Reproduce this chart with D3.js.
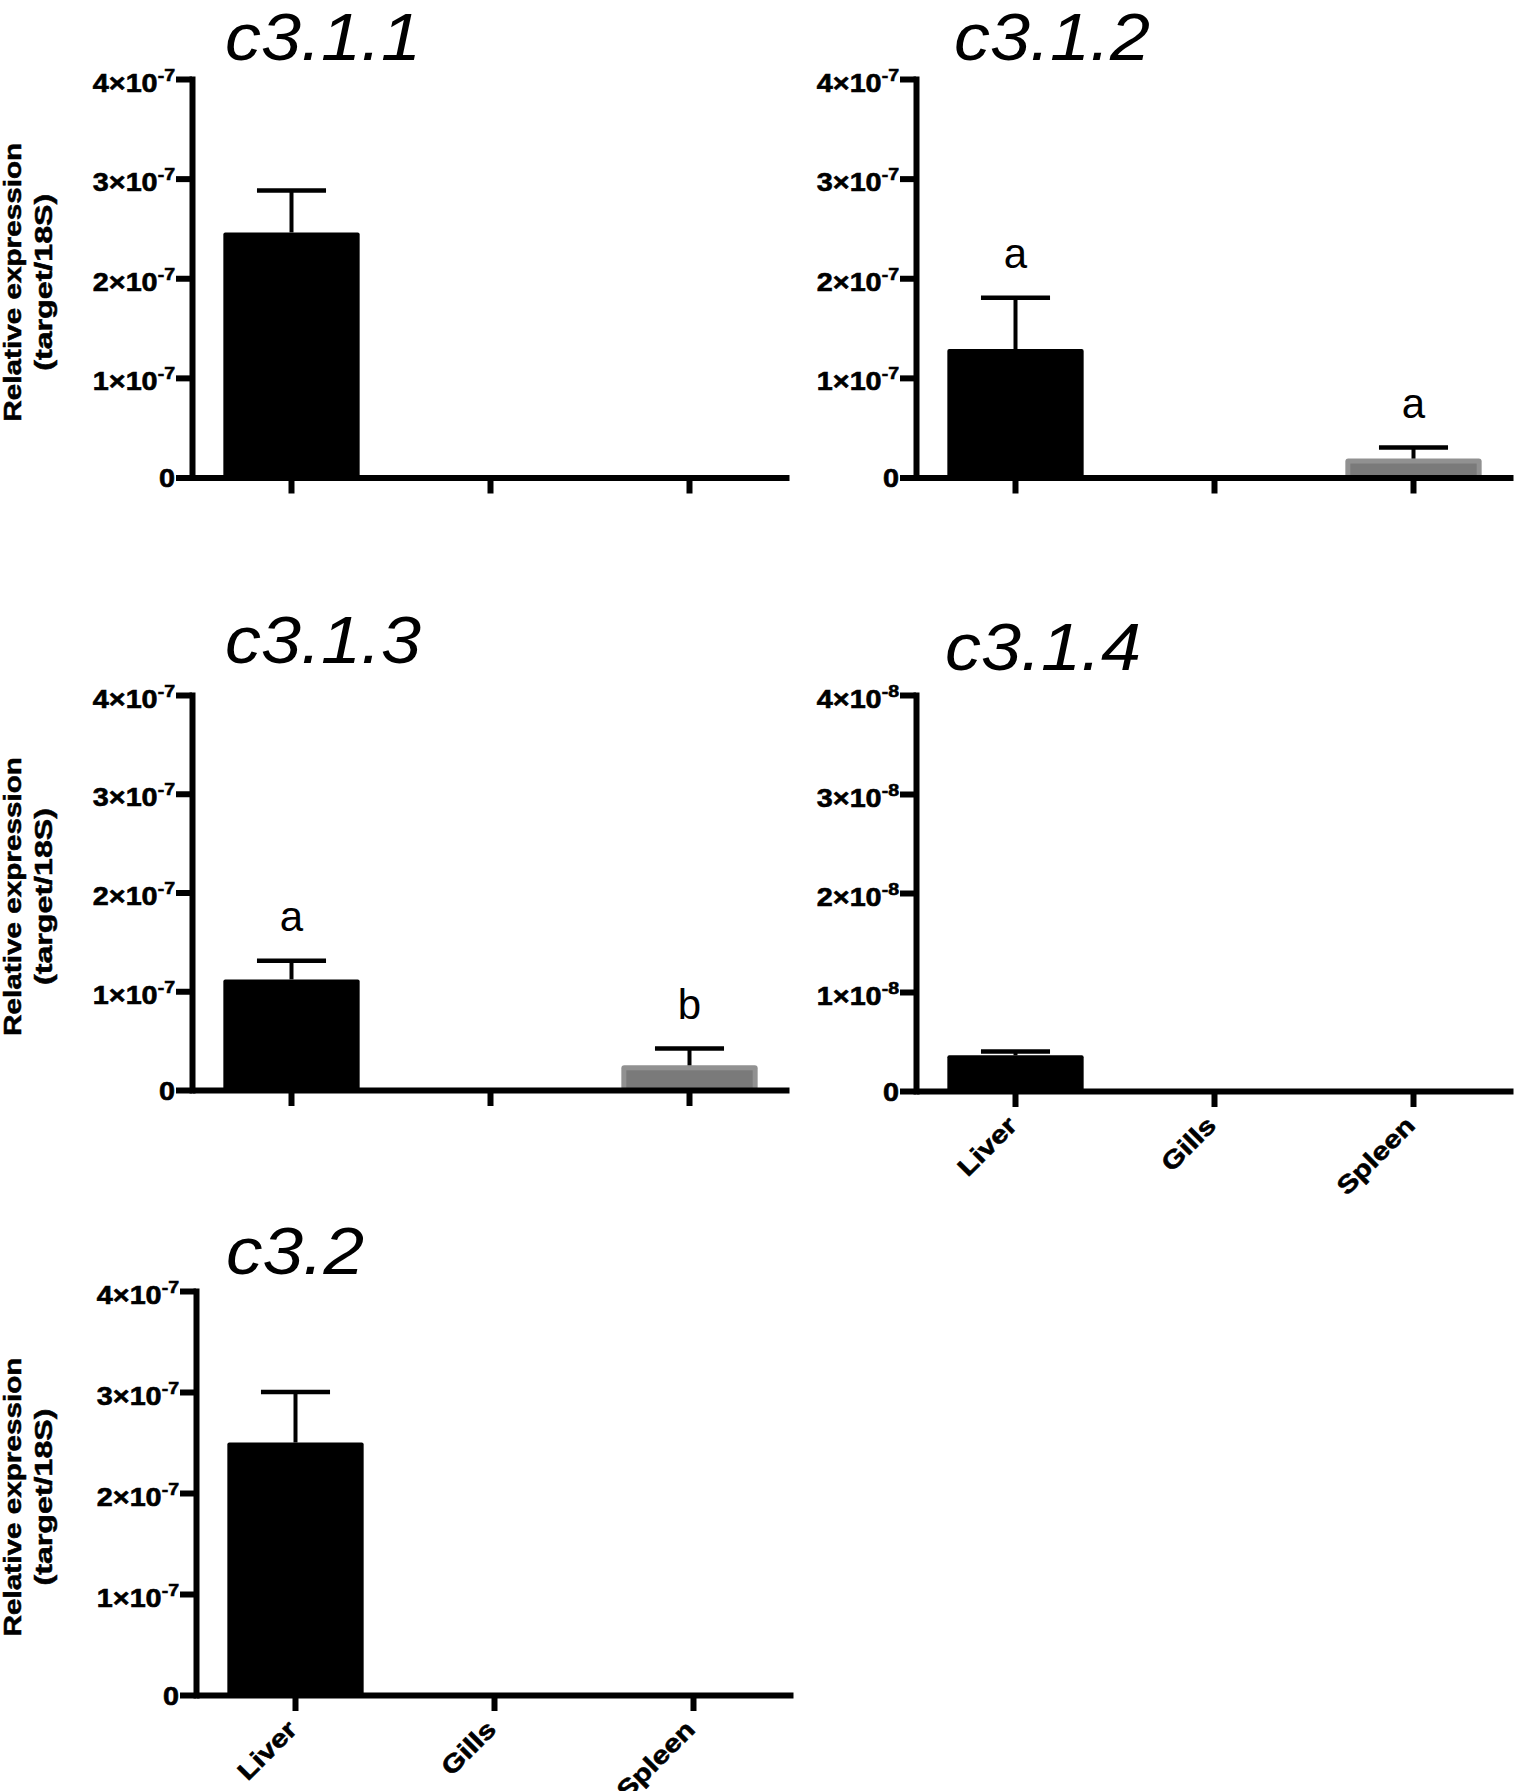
<!DOCTYPE html>
<html><head><meta charset="utf-8">
<script src="https://cdn.jsdelivr.net/npm/d3@7"></script>
<style>
body{margin:0;background:#fff}
text{font-family:"Liberation Sans",Arial,Helvetica,sans-serif;fill:#000}
</style>
</head><body>
<svg id="chart" width="1516" height="1791"></svg>
<script>
// ---------------- data ----------------
const categories = ["Liver", "Gills", "Spleen"];
const panelTitles = ["c3.1.1", "c3.1.2", "c3.1.3", "c3.1.4", "c3.2"];
const exponents = [-7, -7, -7, -8, -7];
const tickMantissas = [0, 1, 2, 3, 4];
const yAxisTitle = ["Relative expression", "(target/18S)"];

const meanC311 = [2.46e-7, 0, 0];
const errC311  = [0.42e-7, 0, 0];
const meanC312 = [1.29e-7, 0.005e-7, 0.19e-7];
const errC312  = [0.515e-7, 0, 0.11e-7];
const meanC313 = [1.12e-7, 0.004e-7, 0.25e-7];
const errC313  = [0.19e-7, 0, 0.17e-7];
const meanC314 = [0.36e-8, 0, 0];
const errC314  = [0.04e-8, 0, 0];
const meanC32  = [2.50e-7, 0, 0];
const errC32   = [0.50e-7, 0, 0];

const lettersC312 = ["a", "", "a"];
const lettersC313 = ["a", "", "b"];

const means = [meanC311, meanC312, meanC313, meanC314, meanC32];
const errs = [errC311, errC312, errC313, errC314, errC32];
const letters = [[], lettersC312, lettersC313, [], []];

// ---------------- layout ----------------
const layout = [
  {x:192, y0:477.5, top:79,  titleX:225, titleY:60,   yTitle:true,  xLabels:false},
  {x:916, y0:477.5, top:79,  titleX:954, titleY:60,   yTitle:false, xLabels:false},
  {x:192, y0:1090,  top:695, titleX:225, titleY:663,  yTitle:true,  xLabels:false},
  {x:916, y0:1091,  top:695, titleX:945, titleY:670,  yTitle:false, xLabels:true},
  {x:196, y0:1695,  top:1291,titleX:226, titleY:1274, yTitle:true,  xLabels:true}
];
const axisLen = 597;
const barColors = {Liver:"#000", Gills:"#000", Spleen:"#7a7a7a"};

const svg = d3.select("#chart");
svg.append("rect").attr("width",1516).attr("height",1791).attr("fill","#fff");

layout.forEach((L, i) => {
  const g = svg.append("g");
  const unit = Math.pow(10, exponents[i]);
  const y = d3.scaleLinear().domain([0, 4*unit]).range([L.y0, L.top]);
  const x = d3.scaleBand().domain(categories).range([L.x, L.x + axisLen]);
  const bw = x.bandwidth()*0.685;
  const capW = x.bandwidth()*0.347;

  // bars
  categories.forEach((c, j) => {
    const v = means[i][j];
    if (v <= 0) return;
    const cx = x(c) + x.bandwidth()/2;
    const top = y(v), h = L.y0 - top;
    if (c === "Spleen") {
      g.append("rect").attr("x", cx-bw/2).attr("y", top).attr("width", bw).attr("height", h)
        .attr("rx", 3).attr("fill", "#919191");
      g.append("rect").attr("x", cx-bw/2+5).attr("y", top+5).attr("width", bw-10).attr("height", Math.max(0,h-5))
        .attr("fill", barColors[c]);
    } else {
      g.append("rect").attr("x", cx-bw/2).attr("y", top).attr("width", bw).attr("height", Math.max(h,0.8))
        .attr("rx", 2).attr("fill", barColors[c]);
    }
    const e = errs[i][j];
    if (e > 0) {
      const ty = y(v+e);
      g.append("line").attr("x1",cx).attr("x2",cx).attr("y1",top).attr("y2",ty)
        .attr("stroke","#000").attr("stroke-width",4);
      g.append("line").attr("x1",cx-capW/2).attr("x2",cx+capW/2).attr("y1",ty).attr("y2",ty)
        .attr("stroke","#000").attr("stroke-width",4.5);
    }
    const lt = letters[i][j];
    if (lt) {
      g.append("text").attr("x", cx).attr("y", y(v+e) - 30)
        .attr("text-anchor","middle").attr("font-size",42).text(lt);
    }
  });

  // y axis
  const yAxis = d3.axisLeft(y).tickValues(tickMantissas.map(m => m*unit))
    .tickSize(16).tickSizeOuter(0).tickFormat("");
  const ya = g.append("g").attr("transform", `translate(${L.x},0)`).call(yAxis);
  ya.selectAll("path,line").attr("stroke","#000").attr("stroke-width",6);
  ya.select(".domain").attr("stroke-linecap","square");
  ya.selectAll(".tick").each(function(d, k) {
    const m = tickMantissas[k];
    const t = d3.select(this).append("text")
      .attr("text-anchor","end").attr("font-weight","bold").attr("font-size",25)
      .attr("stroke","#000").attr("stroke-width",0.6)
      .attr("x",0).attr("y", m === 0 ? 9 : 12)
      .attr("transform","translate(-17,0) scale(1.15,1)");
    if (m === 0) { t.text("0"); }
    else {
      t.append("tspan").text(m + "\u00d710");
      t.append("tspan").attr("font-size",17).attr("dy",-11).text(String(exponents[i]));
    }
  });

  // x axis
  const xAxis = d3.axisBottom(x).tickSize(16).tickSizeOuter(0);
  const xa = g.append("g").attr("transform", `translate(0,${L.y0})`).call(xAxis);
  xa.selectAll("path,line").attr("stroke","#000").attr("stroke-width",6);
  if (L.xLabels) {
    xa.selectAll(".tick text")
      .attr("x",0).attr("y",0).attr("dy",null)
      .attr("text-anchor","end").attr("font-weight","bold").attr("font-size",25)
      .attr("font-family","'Liberation Sans',Arial,sans-serif").attr("fill","#000")
      .attr("stroke","#000").attr("stroke-width",0.6)
      .attr("transform","translate(3,36) rotate(-45) scale(1.2,1)");
  } else {
    xa.selectAll(".tick text").remove();
  }

  // title
  const tLen = panelTitles[i].length > 4 ? 196 : 138;
  g.append("text").attr("x", L.titleX).attr("y", L.titleY)
    .attr("font-size", 66).attr("font-style","italic")
    .attr("textLength", tLen).attr("lengthAdjust","spacingAndGlyphs")
    .text(panelTitles[i]);

  // y-axis title
  if (L.yTitle) {
    const cy = (L.top + L.y0)/2 + 4;
    g.append("text").attr("transform", `translate(21,${cy}) rotate(-90)`)
      .attr("text-anchor","middle").attr("font-weight","bold").attr("font-size",23)
      .attr("stroke","#000").attr("stroke-width",0.5)
      .attr("textLength",279).attr("lengthAdjust","spacingAndGlyphs").text(yAxisTitle[0]);
    g.append("text").attr("transform", `translate(52,${cy}) rotate(-90)`)
      .attr("text-anchor","middle").attr("font-weight","bold").attr("font-size",23)
      .attr("stroke","#000").attr("stroke-width",0.5)
      .attr("textLength",177).attr("lengthAdjust","spacingAndGlyphs").text(yAxisTitle[1]);
  }
});
</script>
</body></html>
